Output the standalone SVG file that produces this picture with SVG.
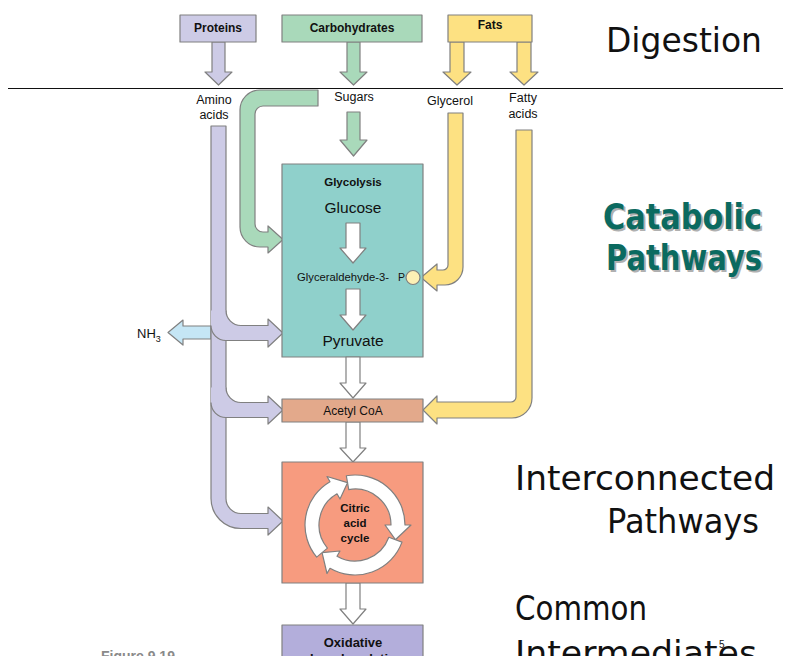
<svg xmlns="http://www.w3.org/2000/svg" width="788" height="656" viewBox="0 0 788 656">
<style>
.ln{stroke:#808080;stroke-width:1.2;stroke-linejoin:round}
.wh{fill:#ffffff}
.pu{fill:#cdcbe6}
.gr{fill:#a9d9ba}
.ye{fill:#fde182}
.lbl{font-family:"Liberation Sans",Arial,sans-serif;fill:#111}
.b{font-weight:bold}
.big{font-family:"DejaVu Sans","Liberation Sans",sans-serif;font-size:34px;fill:#111}
.cat{font-family:"DejaVu Sans","Liberation Sans",sans-serif;font-size:36px;font-weight:bold}
</style>
<rect width="788" height="656" fill="#ffffff"/>
<line x1="8" y1="88.5" x2="783" y2="88.5" stroke="#111" stroke-width="1"/>

<g id="connectors">
  <path class="pu ln" d="M212,42 L225,42 L225,72 L232,72 L218.5,85 L205,72 L212,72 Z"/>
  <path class="gr ln" d="M347,42 L360,42 L360,72 L367,72 L353.5,85 L340,72 L347,72 Z"/>
  <path class="ye ln" d="M450,42 L464,42 L464,72 L471,72 L457,85 L443,72 L450,72 Z"/>
  <path class="ye ln" d="M517,42 L531,42 L531,72 L538,72 L524,85 L510,72 L517,72 Z"/>
  <path class="gr ln" d="M347,112 L360,112 L360,140 L367,140 L353.5,156 L340,140 L347,140 Z"/>
  <path class="gr ln" d="M318,90 L260,90 A20,20 0 0 0 240,110 L240,227 A20,20 0 0 0 260,247 L268,247 L268,253 L283,239.5 L268,226 L268,232 L263,232 A8,8 0 0 1 255,224 L255,114 A8,8 0 0 1 263,106 L318,106 Z"/>
  <path class="ye ln" d="M448,113 L463,113 L463,267 A18,18 0 0 1 445,285 L437,285 L437,291 L421,277.5 L437,264 L437,270 L443,270 A5,5 0 0 0 448,265 Z"/>
  <path class="ye ln" d="M516,130 L532,130 L532,398 A20,20 0 0 1 512,418 L437,418 L437,424 L423,410 L437,396 L437,402 L511,402 A5,5 0 0 0 516,397 Z"/>
  <path fill="#c5e6f5" class="ln" d="M211,326 L183,326 L183,320 L168,332.5 L183,345 L183,339 L211,339 Z"/>
  <path class="pu ln" d="M211,126 L226,126 L226,498.5 A15,15 0 0 0 241,513.5 L268,513.5 L268,507 L283,521 L268,535 L268,528.5 L241,528.5 A30,30 0 0 1 211,498.5 Z"/>
  <path class="pu" d="M211,325.5 A15,15 0 0 0 226,340.5 L268,340.5 L268,347 L283,333 L268,319 L268,325.5 L241,325.5 A15,15 0 0 1 226,310.5 L211,310.5 Z"/>
  <path class="ln" fill="none" d="M226,310.5 A15,15 0 0 0 241,325.5 L268,325.5 L268,319 L283,333 L268,347 L268,340.5 L226,340.5 A15,15 0 0 1 211,325.5"/>
  <path class="pu" d="M211,402.5 A15,15 0 0 0 226,417.5 L268,417.5 L268,424 L283,410 L268,396 L268,402.5 L241,402.5 A15,15 0 0 1 226,387.5 L211,387.5 Z"/>
  <path class="ln" fill="none" d="M226,387.5 A15,15 0 0 0 241,402.5 L268,402.5 L268,396 L283,410 L268,424 L268,417.5 L226,417.5 A15,15 0 0 1 211,402.5"/>
</g>

<g id="proteins">
  <rect x="180" y="15" width="76" height="27" class="pu ln"/>
  <text x="218" y="32" text-anchor="middle" font-size="12" class="lbl b">Proteins</text>
</g>
<g id="carbohydrates">
  <rect x="282" y="15" width="140" height="27" class="gr ln"/>
  <text x="352" y="32" text-anchor="middle" font-size="12" class="lbl b">Carbohydrates</text>
</g>
<g id="fats">
  <rect x="448" y="15" width="84" height="27" class="ye ln"/>
  <text x="490" y="29" text-anchor="middle" font-size="12" class="lbl b">Fats</text>
</g>

<g id="labels" font-size="12.5">
  <text x="214" y="104" text-anchor="middle" class="lbl">Amino</text>
  <text x="214" y="119" text-anchor="middle" class="lbl">acids</text>
  <text x="354" y="101" text-anchor="middle" class="lbl">Sugars</text>
  <text x="450" y="105" text-anchor="middle" class="lbl">Glycerol</text>
  <text x="523" y="102" text-anchor="middle" class="lbl">Fatty</text>
  <text x="523" y="118" text-anchor="middle" class="lbl">acids</text>
  <text x="137" y="338" font-size="13" class="lbl">NH<tspan font-size="9" dy="4">3</tspan></text>
</g>

<g id="glycolysis">
  <rect x="282" y="164" width="141" height="193" fill="#8fd0cb" class="ln"/>
  <text x="353" y="186" text-anchor="middle" font-size="11.5" class="lbl b">Glycolysis</text>
  <text x="353" y="213" text-anchor="middle" font-size="15.5" class="lbl">Glucose</text>
  <path class="wh ln" d="M346,223 L360,223 L360,248 L366,248 L353,263 L340,248 L346,248 Z"/>
  <text x="297" y="281" font-size="10.5" class="lbl" textLength="92" lengthAdjust="spacingAndGlyphs">Glyceraldehyde-3-</text>
  <text x="398" y="281" font-size="10.5" class="lbl">P</text>
  <circle cx="413" cy="277.5" r="7" fill="#fdf0b5" class="ln"/>
  <path class="wh ln" d="M346,289 L360,289 L360,315 L366,315 L353,330 L340,315 L346,315 Z"/>
  <text x="353" y="346" text-anchor="middle" font-size="15.5" class="lbl">Pyruvate</text>
</g>

<g id="arrows-main">
  <path class="wh ln" d="M346,357 L360,357 L360,383 L366,383 L353,398 L340,383 L346,383 Z"/>
  <path class="wh ln" d="M346,422 L360,422 L360,448 L366,448 L353,462 L340,448 L346,448 Z"/>
  <path class="wh ln" d="M346,583 L360,583 L360,609 L366,609 L353,624 L340,609 L346,609 Z"/>
</g>

<g id="acetyl-coa">
  <rect x="282" y="399" width="141" height="23" fill="#e3a98b" class="ln"/>
  <text x="353" y="415" text-anchor="middle" font-size="12" class="lbl">Acetyl CoA</text>
</g>

<g id="citric-acid-cycle">
  <rect x="282" y="462" width="141" height="121" fill="#f79b7f" class="ln"/>
  <path class="wh ln" d="M346.32,475.76 A50,50 0 0 1 405,525 L411,525 L395.41,539.71 L385,525 L391,525 A36,36 0 0 0 348.75,489.55 Z"/>
  <path class="wh ln" d="M401.98,542.10 A50,50 0 0 1 330,568.30 L327,573.50 L322.06,552.64 L340,550.98 L337,556.18 A36,36 0 0 0 388.83,537.31 Z"/>
  <path class="wh ln" d="M316.70,557.14 A50,50 0 0 1 330,481.70 L327,476.50 L347.53,482.65 L340,499.02 L337,493.82 A36,36 0 0 0 327.42,548.14 Z"/>
  <text x="355" y="512" text-anchor="middle" font-size="11.5" class="lbl b">Citric</text>
  <text x="355" y="527" text-anchor="middle" font-size="11.5" class="lbl b">acid</text>
  <text x="355" y="542" text-anchor="middle" font-size="11.5" class="lbl b">cycle</text>
</g>

<g id="oxidative-phosphorylation">
  <rect x="282" y="625" width="141" height="45" fill="#b3aedb" class="ln"/>
  <text x="353" y="647" text-anchor="middle" font-size="13" class="lbl b">Oxidative</text>
  <text x="353" y="663" text-anchor="middle" font-size="13" class="lbl b">phosphorylation</text>
</g>

<g id="figure-label">
  <text x="101" y="661" font-size="14" font-family="Liberation Sans,Arial,sans-serif" font-weight="bold" fill="#8a8a8a">Figure 9.19</text>
</g>

<g id="titles">
  <text x="606" y="52" class="big" textLength="156" lengthAdjust="spacingAndGlyphs">Digestion</text>
  <text x="605" y="231" class="cat" fill="#b0b0b0" textLength="159" lengthAdjust="spacingAndGlyphs">Catabolic</text>
  <text x="603" y="229" class="cat" fill="#0b6a60" textLength="159" lengthAdjust="spacingAndGlyphs">Catabolic</text>
  <text x="608" y="272" class="cat" fill="#b0b0b0" textLength="156" lengthAdjust="spacingAndGlyphs">Pathways</text>
  <text x="606" y="270" class="cat" fill="#0b6a60" textLength="156" lengthAdjust="spacingAndGlyphs">Pathways</text>
  <text x="515" y="490" class="big" textLength="260" lengthAdjust="spacingAndGlyphs">Interconnected</text>
  <text x="607" y="533" class="big" textLength="152" lengthAdjust="spacingAndGlyphs">Pathways</text>
  <text x="515" y="620" class="big" textLength="132" lengthAdjust="spacingAndGlyphs">Common</text>
  <text x="515" y="665" class="big" textLength="242" lengthAdjust="spacingAndGlyphs">Intermediates</text>
  <text x="719" y="648" font-size="10" class="lbl">5</text>
</g>
</svg>
